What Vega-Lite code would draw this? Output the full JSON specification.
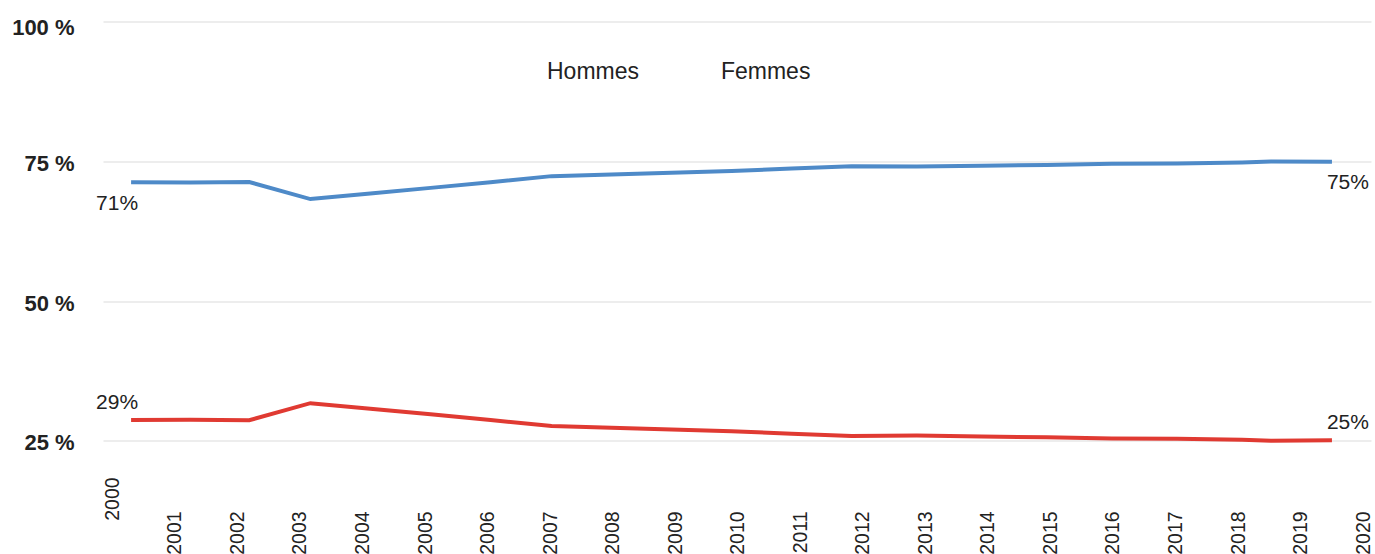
{
  "$schema": "https://vega.github.io/schema/vega-lite/v6.json",
  "width": 1268,
  "height": 447.4,
  "autosize": {"type": "none"},
  "padding": {"left": 103, "top": 21.5, "right": 4, "bottom": 85},
  "background": "white",
  "config": {"view": {"stroke": null}, "font": "Liberation Sans"},
  "data": {
    "values": [
      {"date": "2000-04-20", "sexe": "Hommes", "part": 71.24},
      {"date": "2001-04-01", "sexe": "Hommes", "part": 71.22},
      {"date": "2002-03-11", "sexe": "Hommes", "part": 71.30},
      {"date": "2003-03-03", "sexe": "Hommes", "part": 68.25},
      {"date": "2004-02-16", "sexe": "Hommes", "part": 69.25},
      {"date": "2005-02-02", "sexe": "Hommes", "part": 70.25},
      {"date": "2006-01-18", "sexe": "Hommes", "part": 71.25},
      {"date": "2007-01-10", "sexe": "Hommes", "part": 72.35},
      {"date": "2007-12-25", "sexe": "Hommes", "part": 72.65},
      {"date": "2008-12-10", "sexe": "Hommes", "part": 72.95},
      {"date": "2009-11-26", "sexe": "Hommes", "part": 73.25},
      {"date": "2010-11-12", "sexe": "Hommes", "part": 73.70},
      {"date": "2011-10-28", "sexe": "Hommes", "part": 74.10},
      {"date": "2012-11-12", "sexe": "Hommes", "part": 74.05},
      {"date": "2013-11-26", "sexe": "Hommes", "part": 74.20},
      {"date": "2014-12-10", "sexe": "Hommes", "part": 74.35},
      {"date": "2015-12-25", "sexe": "Hommes", "part": 74.55},
      {"date": "2017-01-10", "sexe": "Hommes", "part": 74.60},
      {"date": "2018-01-24", "sexe": "Hommes", "part": 74.80},
      {"date": "2018-07-12", "sexe": "Hommes", "part": 74.95},
      {"date": "2019-07-03", "sexe": "Hommes", "part": 74.90},
      {"date": "2000-04-20", "sexe": "Femmes", "part": 28.76},
      {"date": "2001-04-01", "sexe": "Femmes", "part": 28.78},
      {"date": "2002-03-11", "sexe": "Femmes", "part": 28.70},
      {"date": "2003-03-03", "sexe": "Femmes", "part": 31.75},
      {"date": "2004-02-16", "sexe": "Femmes", "part": 30.75},
      {"date": "2005-02-02", "sexe": "Femmes", "part": 29.75},
      {"date": "2006-01-18", "sexe": "Femmes", "part": 28.75},
      {"date": "2007-01-10", "sexe": "Femmes", "part": 27.65},
      {"date": "2007-12-25", "sexe": "Femmes", "part": 27.35},
      {"date": "2008-12-10", "sexe": "Femmes", "part": 27.05},
      {"date": "2009-11-26", "sexe": "Femmes", "part": 26.75},
      {"date": "2010-11-12", "sexe": "Femmes", "part": 26.30},
      {"date": "2011-10-28", "sexe": "Femmes", "part": 25.90},
      {"date": "2012-11-12", "sexe": "Femmes", "part": 25.95},
      {"date": "2013-11-26", "sexe": "Femmes", "part": 25.80},
      {"date": "2014-12-10", "sexe": "Femmes", "part": 25.65},
      {"date": "2015-12-25", "sexe": "Femmes", "part": 25.45},
      {"date": "2017-01-10", "sexe": "Femmes", "part": 25.40},
      {"date": "2018-01-24", "sexe": "Femmes", "part": 25.20},
      {"date": "2018-07-12", "sexe": "Femmes", "part": 25.05},
      {"date": "2019-07-03", "sexe": "Femmes", "part": 25.10}
    ]
  },
  "encoding": {
    "x": {
      "field": "date",
      "type": "temporal",
      "scale": {
        "type": "utc",
        "domain": [
          {"year": 1999, "month": 11, "date": 8, "utc": true},
          {"year": 2020, "month": 2, "date": 16, "utc": true}
        ]
      },
      "axis": {
        "title": null,
        "domain": false,
        "ticks": false,
        "grid": false,
        "format": "%Y",
        "tickCount": {"interval": "year", "step": 1},
        "labelAngle": 270,
        "labelFontSize": 19.5,
        "labelColor": "#222222",
        "labelOverlap": false,
        "labelFlush": false,
        "labelBound": false,
        "labelPadding": {"condition": {"test": "utcyear(datum.value) === 2000", "value": 8}, "value": 42}
      }
    },
    "y": {
      "field": "part",
      "type": "quantitative",
      "scale": {"domain": [20, 100], "nice": false, "zero": false},
      "axis": {
        "title": null,
        "values": [25, 50, 75, 100],
        "domain": false,
        "ticks": false,
        "tickSize": 0,
        "labelPadding": 29,
        "labelFontSize": 22,
        "labelFontWeight": "bold",
        "labelColor": "#222222",
        "labelExpr": "datum.value + ' %'",
        "labelOffset": {"condition": {"test": "datum.value === 100", "value": 6}, "value": 2},
        "gridColor": "#dcdcdc",
        "gridWidth": 1
      }
    }
  },
  "layer": [
    {
      "mark": {"type": "line", "strokeWidth": 4},
      "encoding": {
        "color": {
          "field": "sexe",
          "type": "nominal",
          "scale": {"domain": ["Hommes", "Femmes"], "range": ["#4e8ac8", "#e03a32"]},
          "legend": {
            "orient": "none",
            "legendX": 421,
            "legendY": 39,
            "direction": "horizontal",
            "title": null,
            "labelFontSize": 23,
            "labelColor": "#222222",
            "symbolOpacity": 0,
            "symbolStrokeWidth": 0,
            "symbolSize": 0,
            "labelOffset": 0,
            "columnPadding": 58,
            "padding": 0
          }
        }
      }
    },
    {
      "transform": [
        {"joinaggregate": [
          {"op": "min", "field": "date", "as": "dmin"},
          {"op": "max", "field": "date", "as": "dmax"}
        ]},
        {"filter": "time(datum.date) === time(datum.dmin) || time(datum.date) === time(datum.dmax)"},
        {"calculate": "format(datum.part, '.0f') + '%'", "as": "etiquette"},
        {"calculate": "time(datum.date) === time(datum.dmin)", "as": "debut"}
      ],
      "mark": {
        "type": "text",
        "fontSize": 21,
        "baseline": "middle",
        "color": "#222222",
        "align": {"expr": "datum.debut ? 'right' : 'left'"},
        "dx": {"expr": "datum.debut ? 7 : -5"},
        "dy": {"expr": "datum.sexe === 'Hommes' ? 21.5 : -17"}
      },
      "encoding": {
        "text": {"field": "etiquette"}
      }
    }
  ]
}
